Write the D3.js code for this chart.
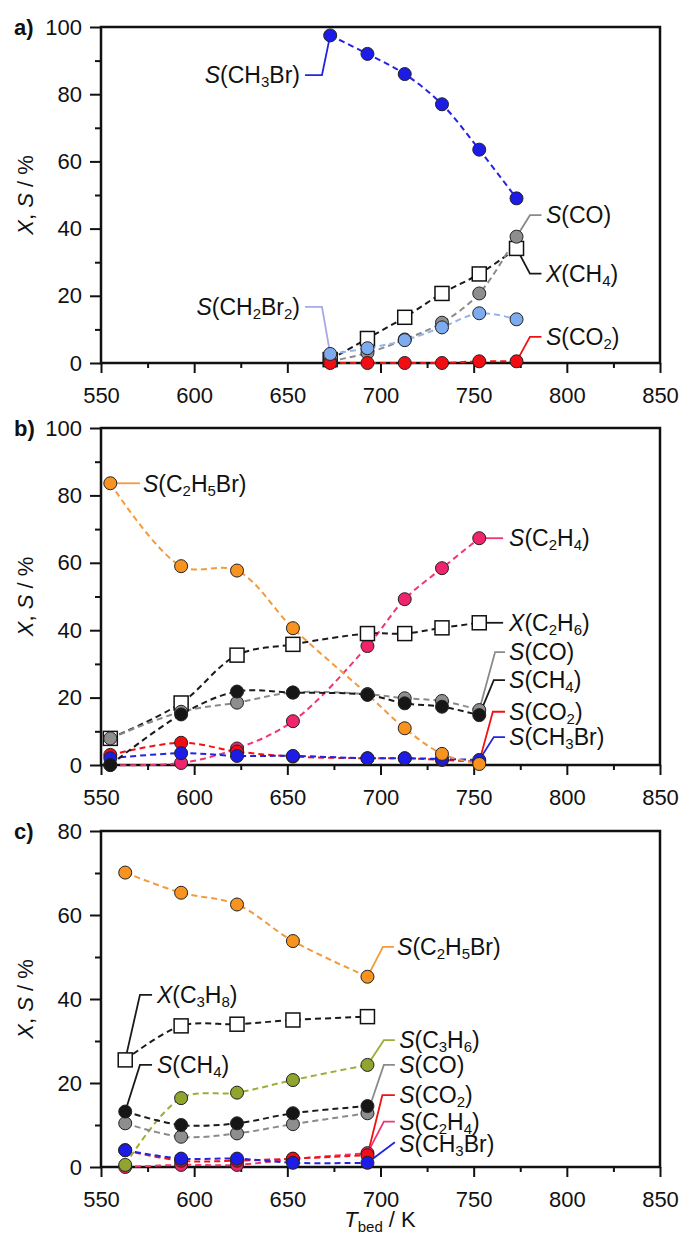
<!DOCTYPE html>
<html>
<head>
<meta charset="utf-8">
<script src="https://cdn.jsdelivr.net/npm/d3@7"></script>
<style>
  body { margin: 0; background: #fff; }
  svg { display: block; }
  text { font-family: "Liberation Sans", Arial, sans-serif; fill: #111; }
</style>
</head>
<body>
<svg id="chart" width="684" height="1241"></svg>
<script>
// ---------- data ----------
// a) CH4 bromination products
const tempA = [673, 693, 713, 733, 753, 773];
const aCH3Br = [97.5, 92, 86, 77, 63.5, 49];
const aXCH4 = [1, 7.3, 13.6, 20.7, 26.5, 34.1];
const aCO = [0.5, 3, 7, 12, 20.7, 37.6];
const aCH2Br2 = [2.7, 4.4, 6.8, 10.6, 14.8, 13];
const aCO2 = [0, 0, 0, 0, 0.5, 0.5];

// b) C2H6 bromination products
const tempB = [555, 593, 623, 653, 693, 713, 733, 753];
const bC2H5Br = [83.6, 59, 57.7, 40.6, 21, 10.9, 3.3, 0.3];
const bXC2H6 = [7.9, 18.4, 32.6, 35.8, 39, 39, 40.7, 42.2];
const bC2H4 = [0, 0.6, 4.9, 13, 35.3, 49.2, 58.4, 67.3];
const bCH4 = [0, 15, 21.8, 21.5, 20.8, 18.3, 17.3, 14.8];
const bCO = [7.9, 15.8, 18.5, 21.5, 21, 19.8, 19, 16.3];
const bCO2 = [3, 6.6, 4, 2.5, 2, 2, 1.5, 1];
const bCH3Br = [2, 3.5, 2.7, 2.7, 2, 2, 1.8, 1.5];

// c) C3H8 bromination products
const tempC = [563, 593, 623, 653, 693];
const cC2H5Br = [70.1, 65.3, 62.5, 53.8, 45.3];
const cXC3H8 = [25.5, 33.6, 34, 35, 35.8];
const cC3H6 = [0.5, 16.4, 17.7, 20.7, 24.3];
const cCH4 = [13.2, 10, 10.4, 12.8, 14.5];
const cCO = [10.4, 7.2, 8, 10.2, 12.8];
const cCO2 = [4, 1.5, 1.5, 2, 2.8];
const cC2H4 = [0, 0.5, 0.5, 1.9, 3.3];
const cCH3Br = [4, 2, 2, 1, 1];

// axis ticks
const xMajorTicks = [550, 600, 650, 700, 750, 800, 850];
const xMinorTicks = [575, 625, 675, 725, 775, 825];
const yMajorTicks100 = [0, 20, 40, 60, 80, 100];
const yMinorTicks100 = [10, 30, 50, 70, 90];
const yMajorTicks80 = [0, 20, 40, 60, 80];
const yMinorTicks80 = [10, 30, 50, 70];

// ---------- styles ----------
const COL = {
  blue:   { fill: "#1c1ce6", line: "#2424e0" },
  lblue:  { fill: "#7eaaee", line: "#93b6ea", lead: "#a8a8e4" },
  grey:   { fill: "#8e8e8e", line: "#8a8a8a" },
  red:    { fill: "#f20c14", line: "#f01212" },
  orange: { fill: "#f7931e", line: "#f29b3e" },
  pink:   { fill: "#f0246c", line: "#f23470" },
  black:  { fill: "#161616", line: "#1a1a1a" },
  olive:  { fill: "#8fa52e", line: "#9cae36" },
  square: { fill: "#ffffff", line: "#1a1a1a" }
};

// series are listed in drawing order (first = bottom)
const panels = [
  {
    tag: "a)", top: 27, bottom: 363, yMax: 100,
    yMajor: yMajorTicks100, yMinor: yMinorTicks100, temps: tempA,
    series: {
      XCH4:   { v: aXCH4, c: COL.square, square: true },
      CO:     { v: aCO, c: COL.grey },
      CO2:    { v: aCO2, c: COL.red },
      CH2Br2: { v: aCH2Br2, c: COL.lblue },
      CH3Br:  { v: aCH3Br, c: COL.blue }
    },
    notes: [
      { t: "S(CH_3Br)", tx: 656.8, ty: 85.7, a: "end", via: [[659.5, 85.7], [668.6, 85.7]], s: "CH3Br", i: 0 },
      { t: "S(CH_2Br_2)", tx: 656.8, ty: 16.7, a: "end", via: [[659.5, 16.7], [668.6, 16.7]], s: "CH2Br2", i: 0 },
      { t: "S(CO)", tx: 788.8, ty: 44.0, a: "start", via: [[786.4, 44.0], [780.2, 44.0]], s: "CO", i: 5 },
      { t: "X(CH_4)", tx: 788.8, ty: 26.6, a: "start", via: [[786.4, 26.6], [780.2, 26.6]], s: "XCH4", i: 5 },
      { t: "S(CO_2)", tx: 788.8, ty: 7.8, a: "start", via: [[786.4, 7.8], [780.2, 7.8]], s: "CO2", i: 5 }
    ]
  },
  {
    tag: "b)", top: 428, bottom: 765, yMax: 100,
    yMajor: yMajorTicks100, yMinor: yMinorTicks100, temps: tempB,
    series: {
      C2H4:  { v: bC2H4, c: COL.pink },
      XC2H6: { v: bXC2H6, c: COL.square, square: true },
      CO2:   { v: bCO2, c: COL.red },
      CH3Br: { v: bCH3Br, c: COL.blue },
      C2H5Br:{ v: bC2H5Br, c: COL.orange },
      CO:    { v: bCO, c: COL.grey },
      CH4:   { v: bCH4, c: COL.black }
    },
    notes: [
      { t: "S(C_2H_5Br)", tx: 572.5, ty: 83.6, a: "start", via: [[570.9, 83.6]], s: "C2H5Br", i: 0 },
      { t: "S(C_2H_4)", tx: 769, ty: 67.3, a: "start", via: [[765.8, 67.3]], s: "C2H4", i: 7 },
      { t: "X(C_2H_6)", tx: 769, ty: 42.2, a: "start", via: [[765.8, 42.2]], s: "XC2H6", i: 7 },
      { t: "S(CO)", tx: 769, ty: 33.5, a: "start", via: [[766.8, 33.5], [761.5, 33.5]], s: "CO", i: 7 },
      { t: "S(CH_4)", tx: 769, ty: 25.2, a: "start", via: [[766.8, 25.2], [760.8, 25.2]], s: "CH4", i: 7 },
      { t: "S(CO_2)", tx: 769, ty: 15.8, a: "start", via: [[766.8, 15.8], [760.3, 15.8]], s: "CO2", i: 7 },
      { t: "S(CH_3Br)", tx: 769, ty: 8.3, a: "start", via: [[766.8, 8.3], [760.8, 8.3]], s: "CH3Br", i: 7 }
    ]
  },
  {
    tag: "c)", top: 831, bottom: 1167, yMax: 80,
    yMajor: yMajorTicks80, yMinor: yMinorTicks80, temps: tempC,
    series: {
      XC3H8: { v: cXC3H8, c: COL.square, square: true },
      C2H4:  { v: cC2H4, c: COL.pink },
      CO2:   { v: cCO2, c: COL.red },
      C3H6:  { v: cC3H6, c: COL.olive },
      CH3Br: { v: cCH3Br, c: COL.blue },
      CO:    { v: cCO, c: COL.grey },
      CH4:   { v: cCH4, c: COL.black },
      C2H5Br:{ v: cC2H5Br, c: COL.orange }
    },
    notes: [
      { t: "S(C_2H_5Br)", tx: 708.9, ty: 52.4, a: "start", via: [[707.2, 52.4], [701.3, 52.4]], s: "C2H5Br", i: 4 },
      { t: "X(C_3H_8)", tx: 580, ty: 41, a: "start", via: [[577.4, 41], [570.9, 41]], s: "XC3H8", i: 0 },
      { t: "S(CH_4)", tx: 580, ty: 24.3, a: "start", via: [[577.4, 24.3], [570.9, 24.3]], s: "CH4", i: 0 },
      { t: "S(C_3H_6)", tx: 710, ty: 30.2, a: "start", via: [[707.7, 30.2], [701.8, 30.2]], s: "C3H6", i: 4 },
      { t: "S(CO)", tx: 710, ty: 24.3, a: "start", via: [[707.7, 24.3], [701.8, 24.3]], s: "CO", i: 4 },
      { t: "S(CO_2)", tx: 710, ty: 17.1, a: "start", via: [[707.7, 17.1], [701.0, 17.1]], s: "CO2", i: 4 },
      { t: "S(C_2H_4)", tx: 710, ty: 10.8, a: "start", via: [[707.7, 10.8], [701.8, 10.8]], s: "C2H4", i: 4 },
      { t: "S(CH_3Br)", tx: 710, ty: 5.6, a: "start", via: [[707.7, 5.9]], s: "CH3Br", i: 4 }
    ]
  }
];

// ---------- drawing ----------
const svg = d3.select("#chart");
const LEFT = 101, RIGHT = 660;
const FS = 22;      // tick labels and titles
const LFS = 23;     // series labels
const SUB = 15;     // subscript size
const SUBDY = 4;    // subscript drop

const x = d3.scaleLinear().domain([550, 850]).range([LEFT, RIGHT]);

// label with italic leading letter and "_n" subscripts
function richLabel(sel, str) {
  sel.append("tspan").attr("font-style", "italic").text(str[0]);
  let buf = "";
  let shift = 0;
  const flush = () => {
    if (!buf) return;
    const t = sel.append("tspan").text(buf);
    if (shift) { t.attr("dy", -shift); shift = 0; }
    buf = "";
  };
  for (let i = 1; i < str.length; i++) {
    if (str[i] === "_") {
      flush();
      sel.append("tspan").attr("font-size", SUB).attr("dy", SUBDY - shift).text(str[i + 1]);
      shift = SUBDY;
      i++;
    } else {
      buf += str[i];
    }
  }
  flush();
}

panels.forEach(p => {
  const y = d3.scaleLinear().domain([0, p.yMax]).range([p.bottom, p.top]);
  const g = svg.append("g");

  // axes: major + minor ticks
  const xAxis = g.append("g").attr("transform", `translate(0,${p.bottom})`)
    .call(d3.axisBottom(x).tickValues(xMajorTicks).tickSize(10).tickPadding(14).tickFormat(d3.format("d")));
  const xMinor = g.append("g").attr("transform", `translate(0,${p.bottom})`)
    .call(d3.axisBottom(x).tickValues(xMinorTicks).tickSize(5).tickFormat(""));
  const yAxis = g.append("g").attr("transform", `translate(${LEFT},0)`)
    .call(d3.axisLeft(y).tickValues(p.yMajor).tickSize(11).tickPadding(8).tickFormat(d3.format("d")));
  const yMinor = g.append("g").attr("transform", `translate(${LEFT},0)`)
    .call(d3.axisLeft(y).tickValues(p.yMinor).tickSize(6).tickFormat(""));
  [xAxis, xMinor, yAxis, yMinor].forEach(a => {
    a.select(".domain").remove();
    a.selectAll(".tick line").attr("stroke", "#111").attr("stroke-width", 2);
    a.selectAll(".tick text").attr("font-size", FS).attr("fill", "#111")
      .attr("font-family", "'Liberation Sans', Arial, sans-serif");
  });

  // frame
  g.append("rect")
    .attr("x", LEFT).attr("y", p.top)
    .attr("width", RIGHT - LEFT).attr("height", p.bottom - p.top)
    .attr("fill", "none").attr("stroke", "#111").attr("stroke-width", 2.5);

  // panel tag
  g.append("text").attr("x", 14).attr("y", p.top).attr("dy", "0.35em")
    .attr("font-size", FS).attr("font-weight", "bold").text(p.tag);

  // y title
  const yt = g.append("text")
    .attr("transform", `translate(33,${(p.top + p.bottom) / 2}) rotate(-90)`)
    .attr("text-anchor", "middle").attr("font-size", FS);
  yt.append("tspan").attr("font-style", "italic").text("X");
  yt.append("tspan").text(", ");
  yt.append("tspan").attr("font-style", "italic").text("S");
  yt.append("tspan").text(" / %");

  const line = d3.line().x((d, i) => x(p.temps[i])).y(d => y(d)).curve(d3.curveCatmullRom.alpha(0.5));

  const entries = Object.entries(p.series);

  // leader lines
  p.notes.forEach(n => {
    const s = p.series[n.s];
    const pts = n.via.map(([t, v]) => [x(t), y(v)]);
    pts.push([x(p.temps[n.i]), y(s.v[n.i])]);
    g.append("path").attr("d", d3.line()(pts))
      .attr("fill", "none")
      .attr("stroke", s.c.lead || s.c.line)
      .attr("stroke-width", 1.8);
  });

  // dashed curves
  entries.forEach(([k, s]) => {
    g.append("path").attr("d", line(s.v))
      .attr("fill", "none").attr("stroke", s.c.line)
      .attr("stroke-width", 2).attr("stroke-dasharray", "6,4");
  });

  // markers
  entries.forEach(([k, s]) => {
    if (s.square) {
      g.selectAll(null).data(s.v).join("rect")
        .attr("x", (d, i) => x(p.temps[i]) - 7).attr("y", d => y(d) - 7)
        .attr("width", 14).attr("height", 14)
        .attr("fill", "#fff").attr("stroke", "#111").attr("stroke-width", 1.5);
    } else {
      g.selectAll(null).data(s.v).join("circle")
        .attr("cx", (d, i) => x(p.temps[i])).attr("cy", d => y(d))
        .attr("r", 6.5)
        .attr("fill", s.c.fill).attr("stroke", "#222").attr("stroke-width", 1);
    }
  });

  // annotation texts
  p.notes.forEach(n => {
    const t = g.append("text")
      .attr("x", x(n.tx)).attr("y", y(n.ty)).attr("dy", "0.36em")
      .attr("text-anchor", n.a).attr("font-size", LFS);
    richLabel(t, n.t);
  });
});

// x-axis title
const xt = svg.append("text").attr("x", 380).attr("y", 1227)
  .attr("text-anchor", "middle").attr("font-size", FS);
xt.append("tspan").attr("font-style", "italic").text("T");
xt.append("tspan").attr("font-size", SUB).attr("dy", 5).text("bed");
xt.append("tspan").attr("dy", -5).text(" / K");
</script>
</body>
</html>
